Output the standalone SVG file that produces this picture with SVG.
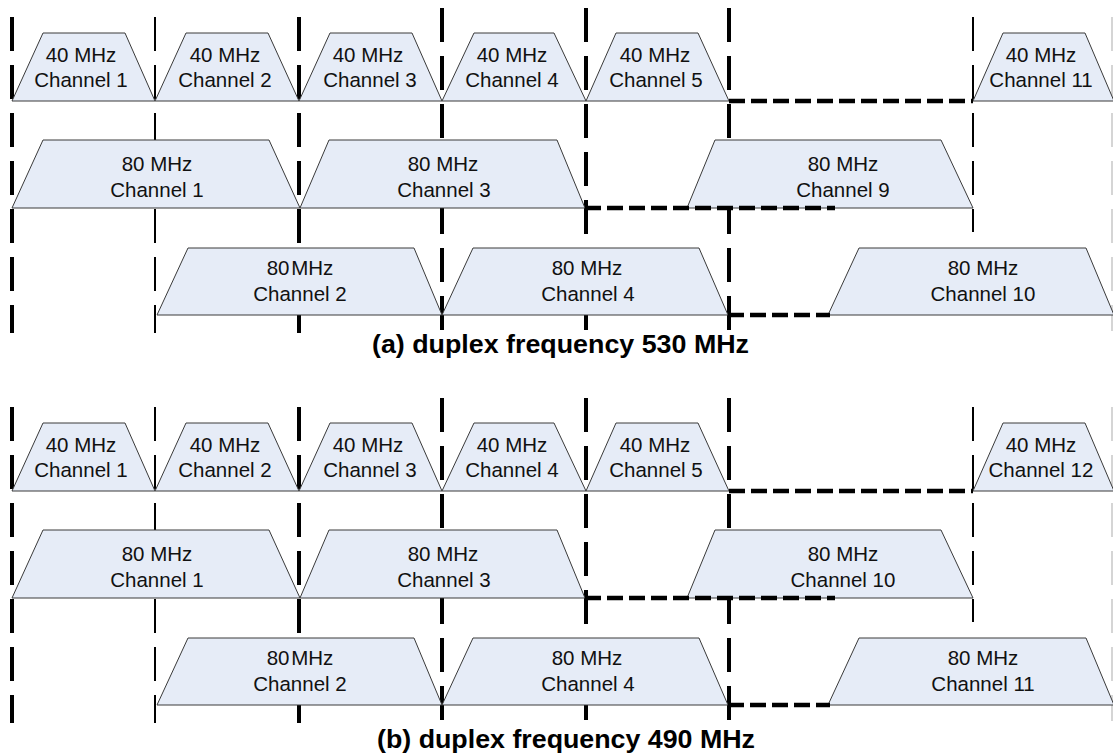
<svg xmlns="http://www.w3.org/2000/svg" width="1113" height="756" viewBox="0 0 1113 756">
<style>
.bg{fill:#ffffff}
.tz{fill:#e6ecf7;stroke:#3a3a3a;stroke-width:1;stroke-linejoin:miter}
.lbl{font-family:"Liberation Sans",Arial,sans-serif;font-size:20.5px;fill:#111;text-anchor:middle}
.ttl{font-family:"Liberation Sans",Arial,sans-serif;font-size:26.5px;font-weight:bold;fill:#000}
.vk{stroke:#000;stroke-width:4;stroke-dasharray:34 14;fill:none}
.vn{stroke:#000;stroke-width:2;stroke-dasharray:34 14;fill:none}
.vf{stroke:#c8c8c8;stroke-width:1.5;stroke-dasharray:34 14;fill:none}
.hd{stroke:#000;stroke-width:4.5;stroke-dasharray:16 6;fill:none}
</style>
<defs>
<g id="vlines">
<line class="vk" x1="12" y1="17" x2="12" y2="333"/>
<line class="vn" x1="155" y1="17" x2="155" y2="333"/>
<line class="vk" x1="299" y1="17" x2="299" y2="333"/>
<line class="vk" x1="442" y1="8" x2="442" y2="333"/>
<line class="vk" x1="586" y1="8" x2="586" y2="333"/>
<line class="vk" x1="729" y1="8" x2="729" y2="333"/>
<line class="vn" x1="973" y1="17" x2="973" y2="232"/>
<line class="vf" x1="1112" y1="17" x2="1112" y2="331"/>
</g>
<g id="hlines">
<line class="hd" x1="729" y1="101" x2="973" y2="101"/>
<line class="hd" x1="585" y1="208" x2="835" y2="208"/>
<line class="hd" x1="728" y1="315" x2="830" y2="315"/>
</g>
</defs>
<rect class="bg" x="0" y="0" width="1113" height="756"/>

<g id="dividers">
<use href="#vlines"/>
<use href="#vlines" transform="translate(0,390)"/>
</g>

<!-- Panel (a) -->
<g id="a-40-ch1"><polygon class="tz" points="12,101 43,33 125,33 155,101"/><text class="lbl" x="81" y="62">40 MHz</text><text class="lbl" x="81" y="87">Channel 1</text></g>
<g id="a-40-ch2"><polygon class="tz" points="155,101 186,33 268,33 299,101"/><text class="lbl" x="225" y="62">40 MHz</text><text class="lbl" x="225" y="87">Channel 2</text></g>
<g id="a-40-ch3"><polygon class="tz" points="299,101 330,33 412,33 442,101"/><text class="lbl" x="368" y="62">40 MHz</text><text class="lbl" x="370" y="87">Channel 3</text></g>
<g id="a-40-ch4"><polygon class="tz" points="442,101 474,33 554,33 586,101"/><text class="lbl" x="512" y="62">40 MHz</text><text class="lbl" x="512" y="87">Channel 4</text></g>
<g id="a-40-ch5"><polygon class="tz" points="586,101 616,33 698,33 729,101"/><text class="lbl" x="655" y="62">40 MHz</text><text class="lbl" x="656" y="87">Channel 5</text></g>
<g id="a-40-ch11"><polygon class="tz" points="973,101 1003,33 1085,33 1114,101"/><text class="lbl" x="1041" y="62">40 MHz</text><text class="lbl" x="1041" y="87">Channel 11</text></g>
<g id="a-80-ch1"><polygon class="tz" points="12,208 43,140 269,140 300,208"/><text class="lbl" x="157" y="171">80 MHz</text><text class="lbl" x="157" y="197">Channel 1</text></g>
<g id="a-80-ch3"><polygon class="tz" points="300,208 329,140 557,140 585,208"/><text class="lbl" x="443" y="171">80 MHz</text><text class="lbl" x="444" y="197">Channel 3</text></g>
<g id="a-80-ch9"><polygon class="tz" points="687,208 715,140 941,140 973,208"/><text class="lbl" x="843" y="171">80 MHz</text><text class="lbl" x="843" y="197">Channel 9</text></g>
<g id="a-80-ch2"><polygon class="tz" points="157,315 188,248 414,248 442,315"/><text class="lbl" x="300" y="275" word-spacing="-4">80 MHz</text><text class="lbl" x="300" y="301">Channel 2</text></g>
<g id="a-80-ch4"><polygon class="tz" points="442,315 473,248 699,248 728,315"/><text class="lbl" x="587" y="275">80 MHz</text><text class="lbl" x="588" y="301">Channel 4</text></g>
<g id="a-80-ch10"><polygon class="tz" points="828,315 859,248 1086,248 1114,315"/><text class="lbl" x="983" y="275">80 MHz</text><text class="lbl" x="983" y="301">Channel 10</text></g>
<g id="title-a"><text class="ttl" x="372" y="353" textLength="377" lengthAdjust="spacingAndGlyphs">(a) duplex frequency 530 MHz</text></g>

<!-- Panel (b) -->
<g id="b-40-ch1"><polygon class="tz" points="12,491 43,423 125,423 155,491"/><text class="lbl" x="81" y="452">40 MHz</text><text class="lbl" x="81" y="477">Channel 1</text></g>
<g id="b-40-ch2"><polygon class="tz" points="155,491 186,423 268,423 299,491"/><text class="lbl" x="225" y="452">40 MHz</text><text class="lbl" x="225" y="477">Channel 2</text></g>
<g id="b-40-ch3"><polygon class="tz" points="299,491 330,423 412,423 442,491"/><text class="lbl" x="368" y="452">40 MHz</text><text class="lbl" x="370" y="477">Channel 3</text></g>
<g id="b-40-ch4"><polygon class="tz" points="442,491 474,423 554,423 586,491"/><text class="lbl" x="512" y="452">40 MHz</text><text class="lbl" x="512" y="477">Channel 4</text></g>
<g id="b-40-ch5"><polygon class="tz" points="586,491 616,423 698,423 729,491"/><text class="lbl" x="655" y="452">40 MHz</text><text class="lbl" x="656" y="477">Channel 5</text></g>
<g id="b-40-ch12"><polygon class="tz" points="973,491 1003,423 1085,423 1114,491"/><text class="lbl" x="1041" y="452">40 MHz</text><text class="lbl" x="1041" y="477">Channel 12</text></g>
<g id="b-80-ch1"><polygon class="tz" points="12,598 43,530 269,530 300,598"/><text class="lbl" x="157" y="561">80 MHz</text><text class="lbl" x="157" y="587">Channel 1</text></g>
<g id="b-80-ch3"><polygon class="tz" points="300,598 329,530 557,530 585,598"/><text class="lbl" x="443" y="561">80 MHz</text><text class="lbl" x="444" y="587">Channel 3</text></g>
<g id="b-80-ch10"><polygon class="tz" points="687,598 715,530 941,530 973,598"/><text class="lbl" x="843" y="561">80 MHz</text><text class="lbl" x="843" y="587">Channel 10</text></g>
<g id="b-80-ch2"><polygon class="tz" points="157,705 188,638 414,638 442,705"/><text class="lbl" x="300" y="665" word-spacing="-4">80 MHz</text><text class="lbl" x="300" y="691">Channel 2</text></g>
<g id="b-80-ch4"><polygon class="tz" points="442,705 473,638 699,638 728,705"/><text class="lbl" x="587" y="665">80 MHz</text><text class="lbl" x="588" y="691">Channel 4</text></g>
<g id="b-80-ch11"><polygon class="tz" points="828,705 859,638 1086,638 1114,705"/><text class="lbl" x="983" y="665">80 MHz</text><text class="lbl" x="983" y="691">Channel 11</text></g>
<g id="title-b"><text class="ttl" x="377" y="748" textLength="378" lengthAdjust="spacingAndGlyphs">(b) duplex frequency 490 MHz</text></g>

<g id="connectors">
<use href="#hlines"/>
<use href="#hlines" transform="translate(0,390)"/>
</g>
</svg>
